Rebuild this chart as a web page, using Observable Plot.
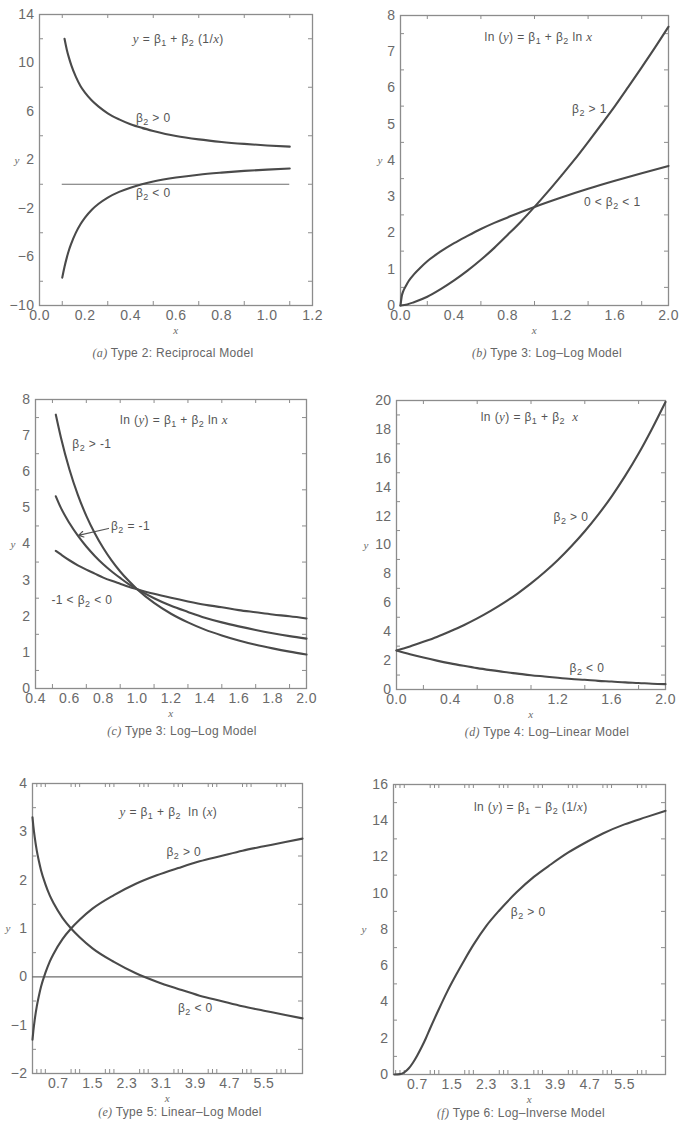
<!DOCTYPE html>
<html><head><meta charset="utf-8">
<script src="https://cdn.jsdelivr.net/npm/d3@7"></script>
<script src="https://cdn.jsdelivr.net/npm/@observablehq/plot@0.6"></script>
<style>
body{margin:0;background:#fff;}
#root{position:relative;width:681px;height:1136px;overflow:hidden;background:#fff;}
.panel{position:absolute;}
.cap{position:absolute;font-family:"Liberation Sans",Arial,sans-serif;font-size:12px;line-height:12px;color:#666;white-space:nowrap;transform:translateX(-50%);letter-spacing:0.3px;}
.cap i{font-family:"Liberation Serif",serif;}
</style></head><body><div id="root"></div>
<script>
// ---------- (a) Reciprocal model ----------
const aPosX = [0.11,0.12,0.13,0.14,0.16,0.18,0.2,0.23,0.26,0.3,0.35,0.4,0.45,0.5,0.6,0.7,0.8,0.9,1.0,1.1];
const aPosY = [12.0,11.1,10.4,9.8,8.85,8.1,7.55,6.9,6.4,5.85,5.35,4.95,4.65,4.4,3.98,3.7,3.49,3.33,3.2,3.1];
const aNegX = [0.1,0.11,0.12,0.13,0.14,0.16,0.18,0.2,0.23,0.26,0.3,0.35,0.4,0.45,0.5,0.6,0.7,0.8,0.9,1.0,1.1];
const aNegY = [-7.7,-6.8,-6.05,-5.4,-4.87,-3.99,-3.3,-2.75,-2.1,-1.61,-1.1,-0.63,-0.28,0.0,0.22,0.55,0.79,0.96,1.1,1.21,1.3];
const aXLabels = [0,0.2,0.4,0.6,0.8,1.0,1.2];
const aYLabels = [-10,-6,-2,2,6,10,14];
// ---------- (b) Log-log, increasing ----------
const bHiX = [0,0.05,0.1,0.2,0.3,0.4,0.5,0.6,0.7,0.8,0.9,1.0,1.1,1.2,1.3,1.4,1.5,1.6,1.7,1.8,1.9,2.0];
const bHiY = [0,0.03,0.09,0.24,0.45,0.69,0.96,1.26,1.59,1.95,2.32,2.72,3.14,3.58,4.03,4.51,5.0,5.5,6.03,6.57,7.12,7.69];
const bLoX = [0,0.01,0.02,0.04,0.06,0.08,0.1,0.15,0.2,0.3,0.4,0.5,0.6,0.7,0.8,0.9,1.0,1.2,1.4,1.6,1.8,2.0];
const bLoY = [0,0.27,0.39,0.54,0.67,0.77,0.86,1.05,1.22,1.49,1.72,1.92,2.11,2.28,2.43,2.58,2.72,2.98,3.22,3.44,3.65,3.85];
const bXLabels = [0,0.4,0.8,1.2,1.6,2.0];
const bYLabels = [0,1,2,3,4,5,6,7,8];
// ---------- (c) Log-log, decreasing ----------
const cX = [0.52,0.55,0.6,0.65,0.7,0.75,0.8,0.85,0.9,0.95,1.0,1.1,1.2,1.3,1.4,1.5,1.6,1.7,1.8,1.9,2.0];
const cSteepY = [7.58,6.95,6.07,5.36,4.78,4.30,3.89,3.54,3.24,2.98,2.75,2.37,2.07,1.83,1.63,1.47,1.33,1.21,1.11,1.02,0.94];
const cUnitY  = [5.32,5.0,4.58,4.23,3.93,3.67,3.44,3.24,3.06,2.89,2.75,2.5,2.29,2.12,1.96,1.83,1.72,1.62,1.53,1.45,1.38];
const cFlatY  = [3.81,3.71,3.55,3.41,3.29,3.18,3.07,2.98,2.90,2.82,2.75,2.62,2.51,2.41,2.32,2.25,2.17,2.11,2.05,2.0,1.94];
const cXLabels = [0.4,0.6,0.8,1.0,1.2,1.4,1.6,1.8,2.0];
const cYLabels = [0,1,2,3,4,5,6,7,8];
// ---------- (d) Log-linear ----------
const dX = [0,0.1,0.2,0.3,0.4,0.5,0.6,0.7,0.8,0.9,1.0,1.1,1.2,1.3,1.4,1.5,1.6,1.7,1.8,1.9,2.0];
const dPosY = [2.7,2.98,3.3,3.64,4.03,4.45,4.92,5.44,6.01,6.64,7.34,8.11,8.96,9.91,10.95,12.1,13.37,14.78,16.33,18.05,19.9];
const dNegY = [2.7,2.44,2.21,2.0,1.81,1.64,1.48,1.34,1.21,1.1,0.99,0.9,0.81,0.73,0.67,0.6,0.55,0.49,0.45,0.4,0.37];
const dXLabels = [0,0.4,0.8,1.2,1.6,2.0];
const dYLabels = [0,2,4,6,8,10,12,14,16,18,20];
// ---------- (e) Linear-log ----------
const eX = [0.1,0.12,0.15,0.2,0.25,0.3,0.4,0.5,0.6,0.8,1.0,1.2,1.5,2.0,2.5,3.0,3.5,4.0,4.5,5.0,5.5,6.0,6.4];
const ePosY = [-1.3,-1.12,-0.9,-0.61,-0.39,-0.2,0.08,0.31,0.49,0.78,1.0,1.18,1.41,1.69,1.92,2.1,2.25,2.39,2.5,2.61,2.7,2.79,2.86];
const eNegY = [3.3,3.12,2.9,2.61,2.39,2.2,1.92,1.69,1.51,1.22,1.0,0.82,0.59,0.31,0.08,-0.1,-0.25,-0.39,-0.5,-0.61,-0.7,-0.79,-0.86];
const eXLabels = [0.7,1.5,2.3,3.1,3.9,4.7,5.5];
const eYLabels = [-2,-1,0,1,2,3,4];
// ---------- (f) Log-inverse ----------
const fX = [0.17,0.3,0.4,0.5,0.6,0.7,0.8,0.9,1.0,1.2,1.4,1.6,1.8,2.0,2.3,2.6,3.0,3.4,3.8,4.2,4.6,5.0,5.5,6.0,6.45];
const fY = [0.0,0.02,0.12,0.33,0.65,1.05,1.5,2.0,2.55,3.6,4.6,5.5,6.35,7.15,8.2,9.05,10.05,10.9,11.6,12.25,12.8,13.3,13.8,14.2,14.55];
const fXLabels = [0.7,1.5,2.3,3.1,3.9,4.7,5.5];
const fYLabels = [0,2,4,6,8,10,12,14,16];

// minor (unlabelled) tick positions
const aXMinor = [0.1,0.3,0.5,0.7,0.9,1.1], aYMinor = [12,8,4,0,-4,-8];
const bXMinor = [0.2,0.6,1.0,1.4,1.8], bYMinor = [0.5,1.5,2.5,3.5,4.5,5.5,6.5,7.5];
const cXMinor = [0.5,0.7,0.9,1.1,1.3,1.5,1.7,1.9], cYMinor = [0.5,1.5,2.5,3.5,4.5,5.5,6.5,7.5];
const dXMinor = [0.2,0.6,1.0,1.4,1.8], dYMinor = [1,3,5,7,9,11,13,15,17,19];
const efXMinor = [0.2,0.3,0.4,1.0,1.1,1.2,1.8,1.9,2.0,2.6,2.7,2.8,3.4,3.5,3.6,4.2,4.3,4.4,5.0,5.1,5.2,5.8,5.9,6.0];
const eYMinor = [-1.5,-0.5,0.5,1.5,2.5,3.5], fYMinor = [1,3,5,7,9,11,13,15];

// annotations (text, data position)
const aNotes = [{t:"y = β₁ + β₂ (1/x)", x:0.61, y:11.94},{t:"β₂ > 0", x:0.50, y:5.42},{t:"β₂ < 0", x:0.50, y:-0.76}];
const bNotes = [{t:"ln (y) = β₁ + β₂ ln x", x:1.03, y:7.39},{t:"β₂ > 1", x:1.41, y:5.43},{t:"0 < β₂ < 1", x:1.58, y:2.84}];
const cNotes = [{t:"ln (y) = β₁ + β₂ ln x", x:1.218, y:7.42},{t:"β₂ > -1", x:0.733, y:6.76},{t:"β₂ = -1", x:0.961, y:4.49},{t:"-1 < β₂ < 0", x:0.674, y:2.44}];
const cArrow = [{x1:0.831, y1:4.43, x2:0.654, y2:4.24}];
const dNotes = [{t:"ln (y) = β₁ + β₂  x", x:0.99, y:18.82},{t:"β₂ > 0", x:1.297, y:11.9},{t:"β₂ < 0", x:1.416, y:1.45}];
const eNotes = [{t:"y = β₁ + β₂  ln (x)", x:3.27, y:3.40},{t:"β₂ > 0", x:3.63, y:2.57},{t:"β₂ < 0", x:3.90, y:-0.655}];
const fNotes = [{t:"ln (y) = β₁ − β₂ (1/x)", x:3.33, y:14.73},{t:"β₂ > 0", x:3.27, y:8.94}];

const captions = [
  {l:"(a)", t:" Type 2: Reciprocal Model", x:173, y:353},
  {l:"(b)", t:" Type 3: Log–Log Model", x:547, y:353},
  {l:"(c)", t:" Type 3: Log–Log Model", x:182, y:731},
  {l:"(d)", t:" Type 4: Log–Linear Model", x:547, y:732},
  {l:"(e)", t:" Type 5: Linear–Log Model", x:180, y:1112},
  {l:"(f)", t:" Type 6: Log–Inverse Model", x:521, y:1113}
];

const zip = (xs, ys) => xs.map((x, i) => ({x, y: ys[i]}));
const LINE = "#4a4a4a", FRAME = "#8c8c8c", TXT = "#6a6a6a";
const minus = d => (d < 0 ? "\u2212" + Math.abs(d) : String(d));
const f1 = d3.format(".1f");

function richify(svg) {
  const NS = "http://www.w3.org/2000/svg";
  svg.querySelectorAll('g[aria-label="text"] text').forEach(t => {
    const s = t.textContent;
    if (!/[β₁₂]/.test(s)) return;
    t.textContent = "";
    const chars = Array.from(s);
    let sub = false;
    chars.forEach((ch, i) => {
      const ts = document.createElementNS(NS, "tspan");
      if (ch === "₁" || ch === "₂") {
        ts.textContent = ch === "₁" ? "1" : "2";
        if (!sub) ts.setAttribute("dy", "3");
        ts.setAttribute("font-size", "9");
        sub = true;
      } else {
        ts.textContent = ch;
        if (sub) { ts.setAttribute("dy", "-3"); sub = false; }
        const prev = chars[i - 1] || " ", next = chars[i + 1] || " ";
        if ((ch === "x" || ch === "y") && !/[a-z]/i.test(prev) && !/[a-z]/i.test(next)) {
          ts.setAttribute("font-style", "italic");
          ts.setAttribute("font-family", "Liberation Serif, serif");
          ts.setAttribute("font-size", "13");
        }
      }
      t.appendChild(ts);
    });
  });
}

const root = document.getElementById("root");

function panel(o) {
  const mL = 52, mR = 16, mT = 10, mB = 40;
  const fw = o.right - o.left, fh = o.bottom - o.top;
  const marks = [
    Plot.frame({stroke: FRAME, strokeWidth: 1.3}),
    Plot.tickX(o.xMinor, {x: d => d, insetTop: fh - 4, stroke: FRAME}),
    Plot.tickX(o.xMinor, {x: d => d, insetBottom: fh - 4, stroke: FRAME}),
    Plot.tickY(o.yMinor, {y: d => d, insetRight: fw - 4, stroke: FRAME}),
    Plot.tickY(o.yMinor, {y: d => d, insetLeft: fw - 4, stroke: FRAME}),
    Plot.axisX(o.xLabels, {tickSize: 0, tickPadding: 5, tickFormat: o.xFmt, label: null, fill: TXT, fontSize: 14}),
    Plot.axisY(o.yLabels, {tickSize: 0, tickPadding: 5, tickFormat: o.yFmt, label: null, fill: TXT, fontSize: 14}),
    ...(o.extra || []),
    ...o.lines.map(l => Plot.line(l, {x: "x", y: "y", stroke: LINE, strokeWidth: 2.1, curve: "monotone-x"})),
    Plot.text(o.notes, {x: "x", y: "y", text: "t", fill: "#555", fontSize: 12, textAnchor: "middle", fontFamily: "Liberation Sans, sans-serif"}),
    Plot.text(["x"], {text: d => d, frameAnchor: "bottom", dy: 28, fontStyle: "italic", fontFamily: "Liberation Serif, serif", fontSize: 11, fill: TXT}),
    Plot.text(["y"], {text: d => d, frameAnchor: "left", dx: o.yDx, fontStyle: "italic", fontFamily: "Liberation Serif, serif", fontSize: 11, fill: TXT})
  ];
  const svg = Plot.plot({
    width: fw + mL + mR, height: fh + mT + mB,
    marginLeft: mL, marginRight: mR, marginTop: mT, marginBottom: mB,
    x: {domain: o.xDomain}, y: {domain: o.yDomain},
    style: {fontFamily: "Liberation Sans, Arial, sans-serif", background: "transparent", overflow: "visible", color: TXT, letterSpacing: "0.4px"},
    marks
  });
  richify(svg);
  svg.classList.add("panel");
  svg.style.left = (o.left - mL) + "px";
  svg.style.top = (o.top - mT) + "px";
  svg.style.position = "absolute";
  root.appendChild(svg);
}

panel({left: 39, top: 14, right: 312, bottom: 305, xDomain: [0, 1.2], yDomain: [-10, 14],
  xLabels: aXLabels, yLabels: aYLabels, xMinor: aXMinor, yMinor: aYMinor, xFmt: f1, yFmt: minus,
  lines: [zip(aPosX, aPosY), zip(aNegX, aNegY)], notes: aNotes, yDx: -25,
  extra: [Plot.ruleY([0], {x1: d3.min(aNegX), x2: d3.max(aNegX), stroke: "#6d6d6d", strokeWidth: 1.2})]});

panel({left: 400, top: 15, right: 668, bottom: 305, xDomain: [0, 2], yDomain: [0, 8],
  xLabels: bXLabels, yLabels: bYLabels, xMinor: bXMinor, yMinor: bYMinor, xFmt: f1, yFmt: minus,
  lines: [zip(bHiX, bHiY), zip(bLoX, bLoY)], notes: bNotes, yDx: -23});

panel({left: 35, top: 399, right: 306, bottom: 688, xDomain: [0.4, 2], yDomain: [0, 8],
  xLabels: cXLabels, yLabels: cYLabels, xMinor: cXMinor, yMinor: cYMinor, xFmt: f1, yFmt: minus,
  lines: [zip(cX, cSteepY), zip(cX, cUnitY), zip(cX, cFlatY)], notes: cNotes, yDx: -25,
  extra: [Plot.arrow(cArrow, {x1: "x1", y1: "y1", x2: "x2", y2: "y2", stroke: "#555", strokeWidth: 1.2, headLength: 7})]});

panel({left: 396, top: 400, right: 665, bottom: 689, xDomain: [0, 2], yDomain: [0, 20],
  xLabels: dXLabels, yLabels: dYLabels, xMinor: dXMinor, yMinor: dYMinor, xFmt: f1, yFmt: minus,
  lines: [zip(dX, dPosY), zip(dX, dNegY)], notes: dNotes, yDx: -33});

panel({left: 32, top: 783, right: 302, bottom: 1073, xDomain: [0.1, 6.4], yDomain: [-2, 4],
  xLabels: eXLabels, yLabels: eYLabels, xMinor: efXMinor, yMinor: eYMinor, xFmt: f1, yFmt: minus,
  lines: [zip(eX, ePosY), zip(eX, eNegY)], notes: eNotes, yDx: -27,
  extra: [Plot.ruleY([0], {x1: d3.min(eX), x2: d3.max(eX), stroke: "#6d6d6d", strokeWidth: 1.2})]});

panel({left: 393, top: 784, right: 665, bottom: 1074, xDomain: [0.15, 6.45], yDomain: [0, 16],
  xLabels: fXLabels, yLabels: fYLabels, xMinor: efXMinor, yMinor: fYMinor, xFmt: f1, yFmt: minus,
  lines: [zip(fX, fY)], notes: fNotes, yDx: -32});

captions.forEach(c => {
  const d = document.createElement("div");
  d.className = "cap";
  d.style.left = c.x + "px";
  d.style.top = (c.y - 6) + "px";
  const i = document.createElement("i");
  i.textContent = c.l;
  d.appendChild(i);
  d.appendChild(document.createTextNode(c.t));
  root.appendChild(d);
});
</script>
</body></html>
